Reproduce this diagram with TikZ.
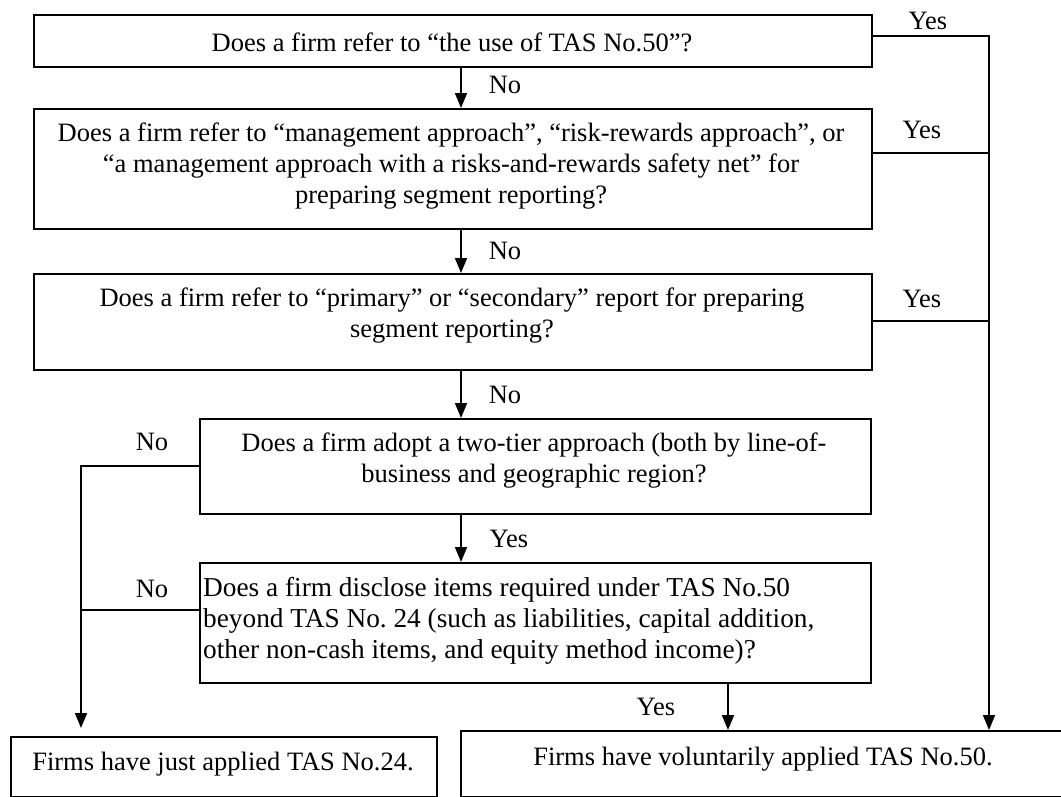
\documentclass[tikz,border=0pt]{standalone}
\usepackage{fontspec}
\setmainfont{Liberation Serif}
\usetikzlibrary{arrows.meta}
\frenchspacing
\begin{document}
\begin{tikzpicture}[x=1pt,y=-1pt,
  box/.style={draw, line width=1.7pt, inner sep=0pt, anchor=north west},
  line/.style={draw, line width=1.7pt},
  arr/.style={line, -{Triangle[length=15pt,width=12pt]}},
  txt/.style={inner sep=0pt, anchor=base, font=\fontsize{26.5}{31}\selectfont},
  ltxt/.style={txt, anchor=base west, font=\fontsize{27.3}{31}\selectfont},
  lbl/.style={txt}]
\useasboundingbox (0,0) rectangle (1061,796);
\clip (0,0) rectangle (1061,796);

% decision boxes
\node[box, minimum width=838pt, minimum height=52pt]  (b1) at (33,14)  {};
\node[box, minimum width=838pt, minimum height=120pt] (b2) at (33,108) {};
\node[box, minimum width=838pt, minimum height=96pt]  (b3) at (33,273) {};
\node[box, minimum width=671pt, minimum height=95pt]  (b4) at (199,418) {};
\node[box, minimum width=671pt, minimum height=120pt] (b5) at (199,562) {};
% outcome boxes
\node[box, minimum width=426pt, minimum height=60pt]  (b6) at (10,736) {};
\node[box, minimum width=606pt, minimum height=66pt]  (b7) at (460,730) {};

% box texts
\node[txt] (t1) at (452,51) {Does a firm refer to “the use of TAS No.50”?};
\node[txt] (t2a) at (451,141) {Does a firm refer to “management approach”, “risk-rewards approach”, or};
\node[txt] (t2b) at (451,172) {“a management approach with a risks-and-rewards safety net” for};
\node[txt] (t2c) at (451,203) {preparing segment reporting?};
\node[txt] (t3a) at (452,306) {Does a firm refer to “primary” or “secondary” report for preparing};
\node[txt] (t3b) at (452,337) {segment reporting?};
\node[txt] (t4a) at (534,451) {Does a firm adopt a two-tier approach (both by line-of-};
\node[txt] (t4b) at (534,482) {business and geographic region?};
\node[ltxt] (t5a) at (203,596) {Does a firm disclose items required under TAS No.50};
\node[ltxt] (t5b) at (203,627) {beyond TAS No. 24 (such as liabilities, capital addition,};
\node[ltxt] (t5c) at (203,658) {other non-cash items, and equity method income)?};
\node[txt] (t6) at (223,770) {Firms have just applied TAS No.24.};
\node[txt] (t7) at (763,765) {Firms have voluntarily applied TAS No.50.};

% branch labels
\node[lbl] (y1l) at (928,29)  {Yes};
\node[lbl] (y2l) at (922,138) {Yes};
\node[lbl] (y3l) at (922,307) {Yes};
\node[lbl] (n1l) at (505,93)  {No};
\node[lbl] (n2l) at (505,259) {No};
\node[lbl] (n3l) at (505,403) {No};
\node[lbl] (y4l) at (509,547) {Yes};
\node[lbl] (n4l) at (152,450) {No};
\node[lbl] (n5l) at (152,597) {No};
\node[lbl] (y5l) at (656,715) {Yes};

% connector guide lines
\coordinate (colx) at (461,0);
\coordinate (rx) at (989,0);
\coordinate (lx) at (81,0);
\coordinate (yx) at (728,0);
\coordinate (ya) at (0,36);
\coordinate (yb) at (0,153);
\coordinate (yc) at (0,321);
\coordinate (yd) at (0,466);
\coordinate (ye) at (0,610);

% "No" chain down the middle
\draw[arr] (b1.south -| colx) -- (b2.north -| colx);
\draw[arr] (b2.south -| colx) -- (b3.north -| colx);
\draw[arr] (b3.south -| colx) -- (b4.north -| colx);
\draw[arr] (b4.south -| colx) -- (b5.north -| colx);

% "Yes" branches on the right
\draw[arr] (b1.east |- ya) -| (b7.north -| rx);
\draw[line] (b2.east |- yb) -- (yb -| rx);
\draw[line] (b3.east |- yc) -- (yc -| rx);
\draw[arr] (b5.south -| yx) -- (b7.north -| yx);

% "No" branches on the left
\draw[arr, shorten >=8pt] (b4.west |- yd) -| (b6.north -| lx);
\draw[line] (b5.west |- ye) -- (ye -| lx);
\end{tikzpicture}
\end{document}
